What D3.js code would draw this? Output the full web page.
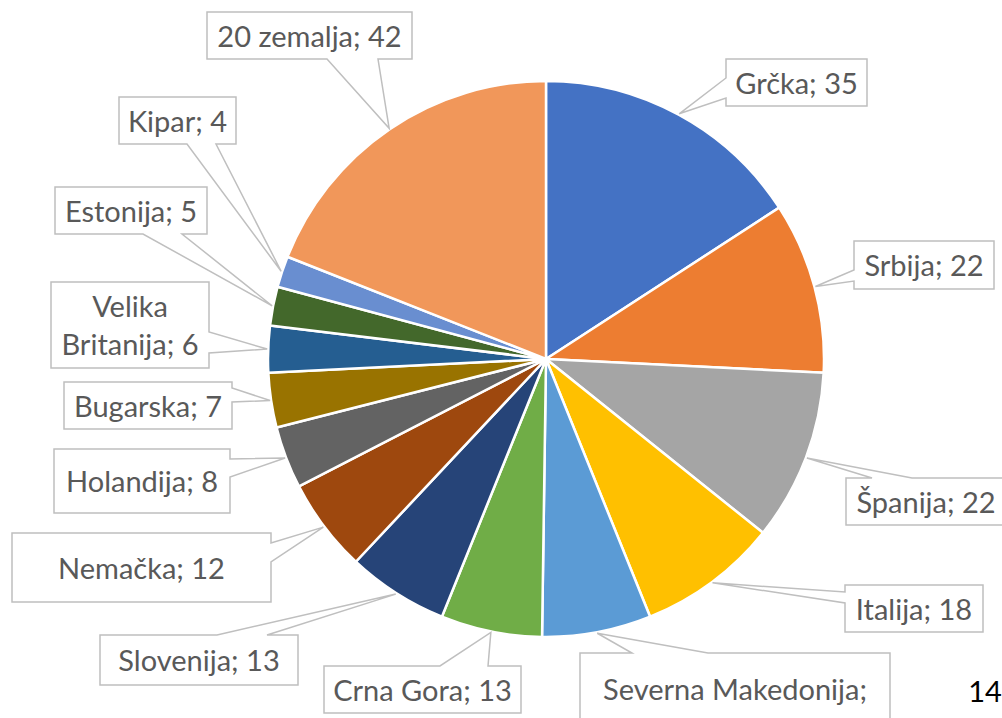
<!DOCTYPE html>
<html><head><meta charset="utf-8">
<script src="https://cdn.jsdelivr.net/npm/d3@7"></script>
<style>html,body{margin:0;padding:0;background:#fff;overflow:hidden}</style>
</head><body><svg id="c" width="1002" height="718"></svg>
<script>
const categories = ["Grčka","Srbija","Španija","Italija","Severna Makedonija","Crna Gora","Slovenija","Nemačka","Holandija","Bugarska","Velika Britanija","Estonija","Kipar","20 zemalja"];
const values = [35,22,22,18,14,13,13,12,8,7,6,5,4,42];
const colors = ["#4472C4","#ED7D31","#A5A5A5","#FFC000","#5B9BD5","#70AD47","#264478","#9E480E","#636363","#997300","#255E91","#43682B","#698ED0","#F1975A"];
// visible label text (Severna Makedonija's value line falls below the picture)
const labelLines = [["Grčka; 35"],["Srbija; 22"],["Španija; 22"],["Italija; 18"],["Severna Makedonija;"],["Crna Gora; 13"],["Slovenija; 13"],["Nemačka; 12"],["Holandija; 8"],["Bugarska; 7"],["Velika","Britanija; 6"],["Estonija; 5"],["Kipar; 4"],["20 zemalja; 42"]];
const pageNumber = "14";

// label callout layout (box + pointer side/positions)
const boxes = [
  {x:726,y:59,w:141,h:47,side:"left",a:78,b:98},
  {x:854,y:241,w:140,h:48,side:"left",a:270,b:281},
  {x:846,y:478,w:160,h:47,side:"top",a:872,b:912},
  {x:845,y:585,w:138,h:47,side:"left",a:592,b:603},
  {x:580,y:653,w:310,h:90,side:"top",a:632,b:708,ty:700},
  {x:324,y:666,w:197,h:47,side:"top",a:440,b:488},
  {x:100,y:635,w:198,h:50,side:"top",a:217,b:267},
  {x:12,y:533,w:259,h:69,side:"right",a:543,b:562},
  {x:54,y:449,w:176,h:64,side:"right",a:459,b:477},
  {x:64,y:382,w:168,h:47,side:"right",a:388,b:402},
  {x:51,y:282,w:158,h:86,side:"right",a:332,b:353},
  {x:55,y:187,w:152,h:47,side:"bottom",a:143,b:182},
  {x:119,y:97,w:117,h:47,side:"bottom",a:187,b:216},
  {x:207,y:12,w:205,h:47,side:"bottom",a:327,b:378}
];

const svg = d3.select("#c");
const cx = 546, cy = 359, r = 278;
const data = categories.map((c,i)=>({name:c,value:values[i],color:colors[i],lines:labelLines[i],box:boxes[i]}));
const pie = d3.pie().sort(null).value(d=>d.value);
const arcs = pie(data);
const arc = d3.arc().innerRadius(0).outerRadius(r);

const g = svg.append("g").attr("transform",`translate(${cx},${cy})`);
g.selectAll("path").data(arcs).join("path")
  .attr("d",arc).attr("fill",d=>d.data.color)
  .attr("stroke","#fff").attr("stroke-width",2.5).attr("stroke-linejoin","round");

function calloutPath(b, p){
  const x0=b.x,y0=b.y,x1=b.x+b.w,y1=b.y+b.h;
  const P = [];
  if(b.side==="top"){ P.push([x0,y0],[b.a,y0],p,[b.b,y0],[x1,y0],[x1,y1],[x0,y1]); }
  else if(b.side==="right"){ P.push([x0,y0],[x1,y0],[x1,b.a],p,[x1,b.b],[x1,y1],[x0,y1]); }
  else if(b.side==="bottom"){ P.push([x0,y0],[x1,y0],[x1,y1],[b.b,y1],p,[b.a,y1],[x0,y1]); }
  else { P.push([x0,y0],[x1,y0],[x1,y1],[x0,y1],[x0,b.b],p,[x0,b.a]); }
  return "M"+P.map(q=>q[0]+","+q[1]).join("L")+"Z";
}

const font = "Lato, 'Open Sans', sans-serif";
const lg = svg.append("g");
arcs.forEach(d=>{
  const mid=(d.startAngle+d.endAngle)/2;
  const p=[cx+(r+1)*Math.sin(mid), cy-(r+1)*Math.cos(mid)];
  const b=d.data.box;
  lg.append("path").attr("d",calloutPath(b,p))
    .attr("fill","#fff").attr("stroke","#BFBFBF").attr("stroke-width",1.5).attr("stroke-linejoin","miter");
  const lines=d.data.lines;
  const lh=38;
  const base = b.ty !== undefined ? b.ty : b.y + b.h/2 + 11;
  const t=lg.append("text").attr("x",b.x+b.w/2).attr("text-anchor","middle")
    .attr("font-family",font).attr("font-size",29).attr("fill","#595959");
  lines.forEach((s,i)=>{
    t.append("tspan").attr("x",b.x+b.w/2)
     .attr("y", base + (i-(lines.length-1)/2)*lh)
     .text(s);
  });
});
svg.append("text").attr("x",985).attr("y",702).attr("text-anchor","middle")
  .attr("font-family",font).attr("font-size",29).attr("fill","#000").text(pageNumber);
</script></body></html>
